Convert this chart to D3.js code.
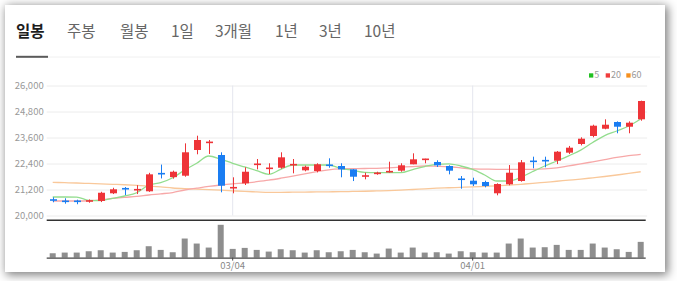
<!DOCTYPE html>
<html><head><meta charset="utf-8">
<script src="https://cdn.jsdelivr.net/npm/d3@7"></script>
<style>
html,body{margin:0;padding:0;background:#fff;width:677px;height:281px;overflow:hidden;}
#card{position:absolute;left:5px;top:5px;width:660px;height:267px;background:#fff;box-shadow:2px 2px 9px 1px rgba(0,0,0,0.5);}
svg{position:absolute;left:0;top:0;}
</style></head>
<body><div id="card"></div><svg id="chart" width="677" height="281"></svg>
<script>
const tabs = ["일봉","주봉","월봉","1일","3개월","1년","3년","10년"];
const dates = ["02/07","02/08","02/13","02/14","02/15","02/16","02/19","02/20","02/21","02/22","02/23","02/26","02/27","02/28","02/29","03/04","03/05","03/06","03/07","03/08","03/11","03/12","03/13","03/14","03/15","03/18","03/19","03/20","03/21","03/22","03/25","03/26","03/27","03/28","03/29","04/01","04/02","04/03","04/04","04/05","04/08","04/09","04/11","04/12","04/15","04/16","04/17","04/18","04/19","04/22"];
const open  = [20730,20670,20670,20650,20670,21025,21250,21175,21117,21945,21770,21837,23023,23360,22792,21265,21485,22345,22160,22205,22330,22085,22054,22335,22285,22130,21805,21915,21993,22068,22363,22575,22470,22285,21690,21606,21546,21025,21440,21592,22515,22545,22530,22900,23300,23670,24005,24315,24098,24440];
const high  = [20840,20795,20730,20740,21095,21280,21315,21400,21970,22350,22070,23330,23683,23485,22917,21763,22225,22607,22410,22917,22607,22300,22410,22640,22410,22145,21975,22020,22483,22410,22870,22620,22548,22317,21823,21745,21606,21485,22330,22560,22715,22715,22975,23210,23608,24190,24440,24345,24345,25300];
const low   = [20610,20545,20520,20590,20620,20990,20945,20990,21090,21710,21700,21790,22825,22840,21070,21025,21407,22130,21915,22160,21947,22040,21990,22205,21763,21590,21670,21880,21975,22020,22363,22410,22240,21900,21237,21360,21300,20932,21393,21560,22178,22225,22375,22840,23237,23610,23980,23795,23795,24375];
const close = [20700,20640,20640,20690,21050,21210,21220,21205,21900,21915,22020,22917,23485,23390,21375,21300,22020,22380,22195,22685,22360,22252,22363,22300,22130,21790,21840,21975,22054,22317,22593,22610,22317,22068,21655,21440,21360,21453,21975,22455,22485,22515,22945,23130,23545,24145,24190,24098,24283,25285];
const volume = [130,150,150,190,220,150,170,220,340,230,160,570,420,300,980,260,290,230,180,250,220,150,220,160,190,230,160,120,270,150,300,150,160,120,190,160,150,150,420,570,300,310,380,230,230,420,300,250,170,470];
const ma5  = [20855,20855,20850,20700,20690,20795,20900,21050,21400,21514,21740,22100,22410,22746,22600,22410,22240,22070,21900,22130,22330,22330,22330,22330,22178,22085,21990,21975,21975,21975,22120,22260,22363,22380,22285,22130,21870,21592,21592,21763,22030,22285,22515,22755,23015,23370,23690,23900,24130,24455];
const ma20 = [20670,20670,20670,20680,20720,20795,20840,20880,20946,21000,21060,21177,21260,21340,21407,21460,21500,21560,21630,21720,21820,21920,22020,22110,22150,22160,22170,22178,22200,22230,22260,22285,22270,22250,22200,22150,22140,22130,22130,22130,22130,22150,22200,22290,22380,22480,22580,22680,22760,22825];
const ma60 = [21530,21515,21500,21480,21460,21440,21420,21390,21360,21320,21270,21240,21220,21190,21170,21140,21110,21090,21070,21070,21075,21080,21090,21095,21100,21110,21120,21135,21150,21170,21200,21230,21260,21280,21300,21320,21345,21370,21400,21440,21480,21530,21580,21630,21680,21740,21800,21870,21940,22020];
const yTicks = [20000,21200,22400,23600,24800,26000];
const xTickLabels = ["03/04","04/01"];
const legendLabels = ["5","20","60"];

const svg = d3.select("#chart");
const FONT = "'Noto Sans CJK KR','Noto Sans',sans-serif";
const L = 46.7, R = 646.7;

// tabs
const tabX = [16,67,120,171,215,275,319,364];
svg.append("line").attr("x1",16).attr("x2",660).attr("y1",57).attr("y2",57).attr("stroke","#f0f0f0").attr("stroke-width",1);
svg.selectAll("text.tab").data(tabs).join("text").attr("class","tab")
  .attr("x",(d,i)=>tabX[i]).attr("y",36.5)
  .attr("font-family",FONT).attr("font-size",15.5)
  .attr("font-weight",(d,i)=>i===0?700:400)
  .attr("fill",(d,i)=>i===0?"#1e1e1e":"#666")
  .text(d=>d);
svg.append("rect").attr("x",16).attr("y",55.8).attr("width",32).attr("height",2).attr("fill","#5a5a5a");

const x = d3.scaleBand().domain(dates).range([L,R]).paddingInner(0.42).paddingOuter(0.21);
const xc = d => x(d) + x.bandwidth()/2;
const y = d3.scaleLinear().domain([20000,26000]).range([215.5,85.5]);
const yv = d3.scaleLinear().domain([0,d3.max(volume)]).range([257.6,224.8]);

// grid
const gAxis = svg.append("g").attr("transform",`translate(${L},0)`)
  .call(d3.axisLeft(y).tickValues(yTicks).tickSize(-(R-L+0.5)).tickFormat(d3.format(",")).tickPadding(3));
gAxis.select(".domain").remove();
gAxis.selectAll(".tick line").attr("stroke","#ececec").attr("stroke-width",1);
gAxis.selectAll(".tick text").attr("font-family",FONT).attr("font-size",9.5).attr("fill","#999");

// vertical grid at labelled dates
svg.selectAll("line.vg").data(xTickLabels).join("line").attr("class","vg")
  .attr("x1",d=>xc(d)).attr("x2",d=>xc(d)).attr("y1",y(26000)).attr("y2",y(20000))
  .attr("stroke","#e4e6ee").attr("stroke-width",1);

// legend
const legColors = ["#22c022","#f03c3c","#f5901e"];
const legX = [589,605.7,626.3];
legendLabels.forEach((t,i)=>{
  svg.append("rect").attr("x",legX[i]).attr("y",73.3).attr("width",4.3).attr("height",4.3).attr("fill",legColors[i]);
  svg.append("text").attr("x",legX[i]+5.3).attr("y",78.2).attr("font-family",FONT).attr("font-size",9).attr("fill","#999").text(t);
});

// MA lines
const idx = d3.range(dates.length);
const line = arr => d3.line().x(i=>xc(dates[i])).y(i=>y(arr[i])).curve(d3.curveMonotoneX)(idx);
svg.append("path").attr("d",line(ma60)).attr("fill","none").attr("stroke","#f9c89a").attr("stroke-width",1.3);
svg.append("path").attr("d",line(ma20)).attr("fill","none").attr("stroke","#f7a8a8").attr("stroke-width",1.3);
svg.append("path").attr("d",line(ma5)).attr("fill","none").attr("stroke","#93dd8e").attr("stroke-width",1.3);

// candles
const up = "#ee3438", down = "#1a7df2";
const cg = svg.append("g");
idx.forEach(i=>{
  const c = close[i]>=open[i] ? up : down;
  const cx = Math.round(xc(dates[i]))+0.5;
  cg.append("line").attr("x1",cx).attr("x2",cx).attr("y1",y(high[i])).attr("y2",y(low[i])).attr("stroke",c).attr("stroke-width",1);
  const top = y(Math.max(open[i],close[i])), bot = y(Math.min(open[i],close[i]));
  const h = Math.max(1.6, bot-top);
  cg.append("rect").attr("x",cx-3.5).attr("y",(top+bot)/2-h/2).attr("width",7).attr("height",h).attr("fill",c);
});

// separator
svg.append("line").attr("x1",L).attr("x2",R-1).attr("y1",220.3).attr("y2",220.3).attr("stroke","#333").attr("stroke-width",1.5);

// volume
svg.selectAll("rect.vol").data(idx).join("rect").attr("class","vol")
  .attr("x",i=>xc(dates[i])-3).attr("width",6)
  .attr("y",i=>yv(volume[i])).attr("height",i=>yv(0)-yv(volume[i]))
  .attr("fill","#8e8e8e");
const xAxis = svg.append("g").attr("transform","translate(0,257.6)")
  .call(d3.axisBottom(x).tickValues(xTickLabels).tickSize(3).tickPadding(2));
xAxis.select(".domain").attr("d",`M${L},0.5H${R-1}`).attr("stroke","#444").attr("stroke-width",1.3);
xAxis.selectAll(".tick line").attr("stroke","#444");
xAxis.selectAll(".tick text").attr("font-family",FONT).attr("font-size",9.5).attr("fill","#888");
</script></body></html>
